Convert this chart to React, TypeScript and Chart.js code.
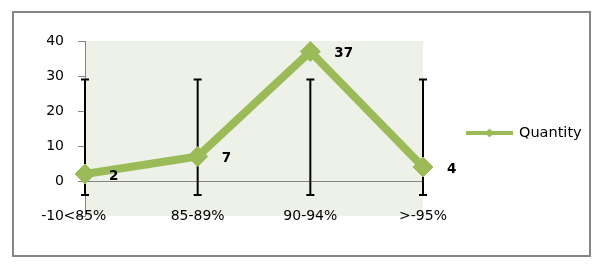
import React, { useEffect, useRef } from "react";
import { Chart, registerables } from "chart.js";

Chart.register(...registerables);

const categories = ["<85%", "85-89%", "90-94%", ">-95%"];
const quantity = [2, 7, 37, 4];
const errLow = [-4, -4, -4, -4];
const errHigh = [29, 29, 29, 29];
const yTicks = [-10, 0, 10, 20, 30, 40];
const seriesName = "Quantity";

const GREEN = "#9BBB59";
const GRAY = "#868686";
const FONT = "'DejaVu Sans', sans-serif";

const framePlugin = {
  id: "frame",
  beforeDraw(chart: any) {
    const { ctx, chartArea } = chart;
    ctx.save();
    ctx.fillStyle = "#ffffff";
    ctx.fillRect(0, 0, chart.width, chart.height);
    ctx.strokeStyle = GRAY;
    ctx.lineWidth = 2;
    ctx.strokeRect(13, 12, 577, 244);
    ctx.fillStyle = "rgb(238,241,232)";
    ctx.fillRect(
      chartArea.left,
      chartArea.top,
      chartArea.right - chartArea.left,
      chartArea.bottom - chartArea.top
    );
    ctx.restore();
  },
};

const xLabelPlugin = {
  id: "xLabels",
  afterDraw(chart: any) {
    const { ctx, chartArea } = chart;
    const xs = chart.scales.x;
    ctx.save();
    ctx.fillStyle = "#000000";
    ctx.font = "14px " + FONT;
    ctx.textAlign = "center";
    ctx.textBaseline = "middle";
    categories.forEach((c, i) => {
      ctx.fillText(c, xs.getPixelForValue(i), chartArea.bottom);
    });
    ctx.restore();
  },
};

const errorBarPlugin = {
  id: "errorBars",
  beforeDatasetsDraw(chart: any) {
    const { ctx } = chart;
    const xs = chart.scales.x;
    const ys = chart.scales.y;
    ctx.save();
    ctx.strokeStyle = "#000000";
    ctx.lineWidth = 2;
    quantity.forEach((_, i) => {
      const x = xs.getPixelForValue(i);
      const y1 = ys.getPixelForValue(errLow[i]);
      const y2 = ys.getPixelForValue(errHigh[i]);
      ctx.beginPath();
      ctx.moveTo(x, y1);
      ctx.lineTo(x, y2);
      ctx.moveTo(x - 4, y1);
      ctx.lineTo(x + 4, y1);
      ctx.moveTo(x - 4, y2);
      ctx.lineTo(x + 4, y2);
      ctx.stroke();
    });
    ctx.restore();
  },
};

const labelPlugin = {
  id: "dataLabels",
  afterDatasetsDraw(chart: any) {
    const { ctx } = chart;
    const meta = chart.getDatasetMeta(0);
    ctx.save();
    ctx.fillStyle = "#000000";
    ctx.font = "bold 13.5px " + FONT;
    ctx.textAlign = "left";
    ctx.textBaseline = "middle";
    meta.data.forEach((pt: any, i: number) => {
      ctx.fillText(String(quantity[i]), pt.x + 24, pt.y + 2);
    });
    ctx.restore();
  },
};

const legendPlugin = {
  id: "customLegend",
  afterDraw(chart: any) {
    const { ctx, chartArea } = chart;
    const x0 = chartArea.right + 43;
    const y = 133;
    ctx.save();
    ctx.strokeStyle = GREEN;
    ctx.lineWidth = 4;
    ctx.beginPath();
    ctx.moveTo(x0, y);
    ctx.lineTo(x0 + 47, y);
    ctx.stroke();
    ctx.fillStyle = GREEN;
    ctx.beginPath();
    const cx = x0 + 23.5;
    ctx.moveTo(cx, y - 4.5);
    ctx.lineTo(cx + 4.5, y);
    ctx.lineTo(cx, y + 4.5);
    ctx.lineTo(cx - 4.5, y);
    ctx.closePath();
    ctx.fill();
    ctx.fillStyle = "#000000";
    ctx.font = "14.5px " + FONT;
    ctx.textAlign = "left";
    ctx.textBaseline = "middle";
    ctx.fillText(seriesName, x0 + 53, y);
    ctx.restore();
  },
};

export default function App() {
  const ref = useRef<HTMLCanvasElement | null>(null);
  useEffect(() => {
    if (!ref.current) return;
    const chart = new Chart(ref.current, {
      type: "line",
      data: {
        labels: categories,
        datasets: [
          {
            label: seriesName,
            data: quantity,
            borderColor: GREEN,
            backgroundColor: GREEN,
            borderWidth: 8,
            pointStyle: "rectRot",
            pointRadius: 10,
            pointBackgroundColor: GREEN,
            pointBorderColor: GREEN,
            pointBorderWidth: 1,
            tension: 0,
            clip: false as any,
          },
        ],
      },
      options: {
        animation: false,
        responsive: false,
        devicePixelRatio: 1,
        layout: { padding: { left: 25, top: 41, right: 178, bottom: 31 } },
        plugins: {
          legend: { display: false },
          tooltip: { enabled: false },
        },
        scales: {
          x: {
            type: "category",
            offset: false,
            grid: { display: false, drawTicks: false },
            border: { display: false },
            ticks: { display: false },
            afterFit: (s: any) => {
              s.height = 20;
            },
          },
          y: {
            min: yTicks[0],
            max: yTicks[yTicks.length - 1],
            afterBuildTicks: (s: any) => {
              s.ticks = yTicks.map((v) => ({ value: v }));
            },
            grid: {
              drawOnChartArea: true,
              drawTicks: true,
              tickLength: 7,
              tickColor: GRAY,
              color: (c: any) => (c.tick && c.tick.value === 0 ? GRAY : "rgba(0,0,0,0)"),
              lineWidth: 1,
            },
            border: { display: true, color: GRAY, width: 1 },
            ticks: {
              color: "#000000",
              font: { family: FONT, size: 14 },
              padding: 14,
            },
            afterFit: (s: any) => {
              s.width = 60;
            },
          },
        },
      },
      plugins: [framePlugin, errorBarPlugin, labelPlugin, legendPlugin, xLabelPlugin],
    });
    return () => chart.destroy();
  }, []);
  return (
    <div style={{ position: "fixed", left: 0, top: 0, width: 601, height: 267 }}>
      <canvas ref={ref} width={601} height={267} />
    </div>
  );
}
